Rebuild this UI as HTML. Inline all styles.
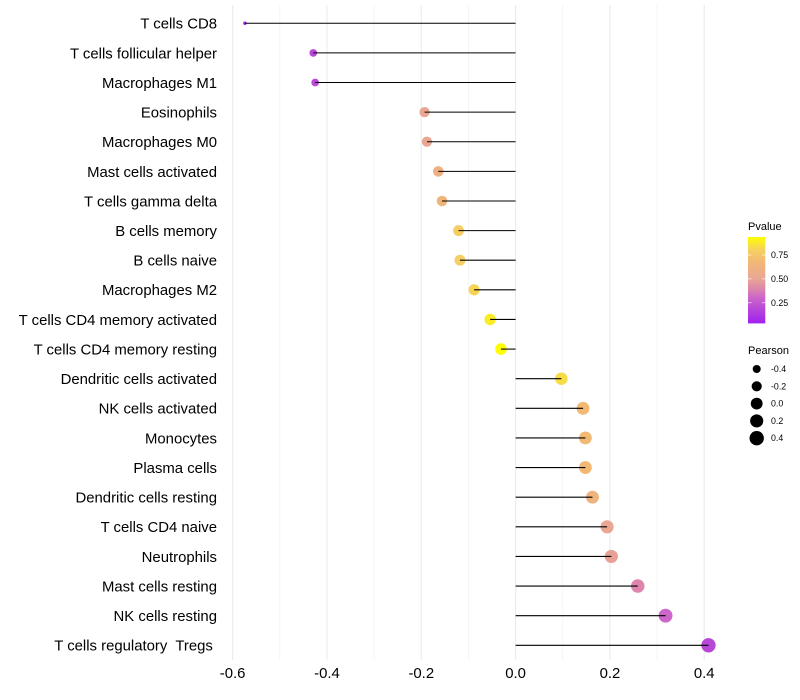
<!DOCTYPE html>
<html>
<head>
<meta charset="utf-8">
<title>Immune cell correlation lollipop chart</title>
<style>
html,body{margin:0;padding:0;background:#fff;}
svg{display:block;font-family:"Liberation Sans",sans-serif;}
text{white-space:pre;}
</style>
</head>
<body>
<svg id="chart" width="800" height="700" viewBox="0 0 800 700" xmlns="http://www.w3.org/2000/svg"></svg>
<script>
const categories = ["T cells CD8","T cells follicular helper","Macrophages M1","Eosinophils","Macrophages M0","Mast cells activated","T cells gamma delta","B cells memory","B cells naive","Macrophages M2","T cells CD4 memory activated","T cells CD4 memory resting","Dendritic cells activated","NK cells activated","Monocytes","Plasma cells","Dendritic cells resting","T cells CD4 naive","Neutrophils","Mast cells resting","NK cells resting","T cells regulatory  Tregs "];
const pearson = [-0.574,-0.429,-0.425,-0.193,-0.188,-0.164,-0.156,-0.121,-0.118,-0.088,-0.054,-0.031,0.097,0.143,0.148,0.148,0.163,0.194,0.203,0.259,0.318,0.409];
const pvalue = [0.04,0.19,0.2,0.51,0.51,0.6,0.65,0.79,0.8,0.82,0.886,0.94,0.84,0.69,0.69,0.69,0.63,0.51,0.49,0.4,0.31,0.19];
const xTicks = [-0.6,-0.4,-0.2,0,0.2,0.4];
const xMinorTicks = [-0.5,-0.3,-0.1,0.1,0.3];
const colorTicks = [0.25,0.5,0.75];
const sizeTicks = [-0.4,-0.2,0,0.2,0.4];

const svg = document.getElementById('chart');
const NS = 'http://www.w3.org/2000/svg';
function make(tag, attrs, text){
  const el = document.createElementNS(NS, tag);
  for (const k in attrs) el.setAttribute(k, attrs[k]);
  if (text !== undefined) el.textContent = text;
  svg.appendChild(el);
  return el;
}
function xScale(v){ return 515.6 + v * 471.6; }
function yScale(i){ return 23.26 + i * 29.62; }
const minP = Math.min(...pearson), maxP = Math.max(...pearson);
function radius(v){ return 1.7 + 5.5 * Math.sqrt(Math.max(0, (v - minP) / (maxP - minP))); }
const stops = [[0,[160,32,240]],[0.17,[184,72,216]],[0.3,[204,102,200]],[0.4,[221,133,172]],[0.52,[233,167,147]],[0.72,[242,185,116]],[0.85,[245,208,96]],[1,[255,255,0]]];
function color(p){
  const c = Math.min(1, Math.max(0, (p - 0.04) / 0.9));
  for (let i = 1; i < stops.length; i++){
    if (c <= stops[i][0]){
      const a = stops[i-1], b = stops[i], f = (c - a[0]) / (b[0] - a[0]);
      const m = a[1].map((x, j) => Math.round(x + (b[1][j] - x) * f));
      return 'rgb(' + m.join(',') + ')';
    }
  }
  return 'rgb(255,255,0)';
}
function tickText(v){ return v.toFixed(1); }

xMinorTicks.forEach(v => {
  const el = make('line', {x1:xScale(v), x2:xScale(v), y1:5, y2:660, stroke:'#f2f2f2', 'stroke-width':0.8});
  
  
});
xTicks.forEach(v => {
  const el = make('line', {x1:xScale(v), x2:xScale(v), y1:5, y2:660, stroke:'#ebebeb', 'stroke-width':1.1});
  
  
  const lab = make('text', {x:xScale(v), y:678, 'text-anchor':'middle', 'font-size':14.9, fill:'#000'}, tickText(v));
  
  
});
categories.forEach((name, i) => {
  const lab = make('text', {x:217, y:yScale(i) + 5.4, 'text-anchor':'end', 'font-size':14.9, fill:'#000'}, name);
  
  
});
pearson.forEach((v, i) => {
  const dot = make('circle', {cx:xScale(v), cy:yScale(i), r:radius(v), fill:color(pvalue[i])});
  
  
});
pearson.forEach((v, i) => {
  const ln = make('line', {x1:xScale(0), x2:xScale(v), y1:yScale(i), y2:yScale(i), stroke:'#000', 'stroke-width':1.07});
  
  
});

/* colour legend */
const defs = document.createElementNS(NS, 'defs');
const grad = document.createElementNS(NS, 'linearGradient');
grad.setAttribute('id', 'pvalue-gradient');
grad.setAttribute('x1', '0'); grad.setAttribute('x2', '0');
grad.setAttribute('y1', '1'); grad.setAttribute('y2', '0');
stops.forEach(s => {
  const st = document.createElementNS(NS, 'stop');
  st.setAttribute('offset', s[0]);
  st.setAttribute('stop-color', 'rgb(' + s[1].join(',') + ')');
  grad.appendChild(st);
});
defs.appendChild(grad);
svg.appendChild(defs);

const title1 = make('text', {x:748, y:230, 'font-size':11, fill:'#000'}, 'Pvalue');


const bar = make('rect', {x:748, y:237, width:17.3, height:86.4, fill:'url(#pvalue-gradient)'});


function legendY(p){ return 278.9 - (p - 0.5) * 95.6; }
colorTicks.forEach(p => {
  const y = legendY(p);
  const t1 = make('line', {x1:748, x2:751.5, y1:y, y2:y, stroke:'#fff', 'stroke-width':0.6});
  
  
  const t2 = make('line', {x1:761.8, x2:765.3, y1:y, y2:y, stroke:'#fff', 'stroke-width':0.6});
  
  
  const lab = make('text', {x:771, y:y + 3, 'font-size':8.8, fill:'#000'}, p.toFixed(2));
  
  
});

/* size legend */
const title2 = make('text', {x:748, y:354, 'font-size':11, fill:'#000'}, 'Pearson');


sizeTicks.forEach((v, i) => {
  const y = 369 + i * 17.3;
  const dot = make('circle', {cx:756.7, cy:y, r:radius(v), fill:'#000'});
  
  
  const lab = make('text', {x:771, y:y + 3, 'font-size':8.8, fill:'#000'}, tickText(v));
  
  
});
</script>
</body>
</html>
